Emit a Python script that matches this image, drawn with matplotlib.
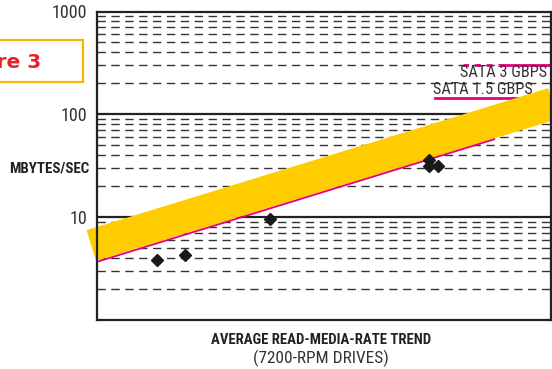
import matplotlib
matplotlib.use("Agg")
import matplotlib.pyplot as plt
from matplotlib.patches import Rectangle
from matplotlib import font_manager as fm

# ---- data ----
point_years = [1998.1, 1999.1, 2002.1, 2007.7, 2007.7, 2008.0]
point_rates = [3.8, 4.3, 9.5, 35.7, 31.3, 31.3]

trend_years = [1996.0, 2010.0]
trend_rates = [3.68, 57.2]

band_years = [1995.8, 2012.4]
band_rates = [5.30, 135.6]

sata3_years_dotted = [2008.9, 2010.3]
sata3_years_solid = [2010.3, 2012.0]
sata3_rate = 305
sata15_years = [2007.9, 2011.0]
sata15_rate = 143

yticks = [10, 100, 1000]
ytick_labels = ["10", "100", "1000"]
minor_ticks = [m * d for d in (1, 10, 100) for m in range(2, 10)]

names = {f.name for f in fm.fontManager.ttflist}
NARROW = "DejaVu Sans"
STRETCH = "condensed"
for cand in ["Liberation Sans Narrow", "Roboto Condensed", "Open Sans Condensed"]:
    if cand in names:
        NARROW = cand
        STRETCH = "normal"
        break

fig = plt.figure(figsize=(5.52, 3.69), dpi=100)
ax = fig.add_axes([97 / 552, 49 / 369, 454 / 552, 308.5 / 369])
ax.set_yscale("log")
ax.set_xlim(1996, 2012)
ax.set_ylim(1, 1000)

# grid
for v in minor_ticks:
    ax.axhline(v, color="#333333", lw=1.0, dashes=(6, 4), zorder=1)
for v in yticks[:-1]:
    ax.axhline(v, color="#222222", lw=1.6, zorder=1.5)

# yellow band
ax.plot(band_years, band_rates, color="#FFCC00", lw=23.2, solid_capstyle="butt",
        clip_on=False, zorder=3)
# magenta trend
ax.plot(trend_years, trend_rates, color="#E6007E", lw=1.3, zorder=4)

# points
ax.plot(point_years, point_rates, linestyle="none", marker="D", ms=6,
        color="#1a1a1a", zorder=5)

# SATA lines
ax.plot(sata3_years_dotted, [sata3_rate] * 2, color="#E6007E", lw=2,
        dashes=(2, 2.2), zorder=2, clip_on=False)
ax.plot(sata3_years_solid, [sata3_rate] * 2, color="#E6007E", lw=2, zorder=2,
        clip_on=False)
ax.plot(sata15_years, [sata15_rate] * 2, color="#E6007E", lw=2, zorder=2)

tk = dict(family=NARROW, fontstretch=STRETCH)
ax.text(2011.85, 254, "SATA 3 GBPS", ha="right", va="center", fontsize=11.7,
        color="#333333", zorder=6, **tk)
ax.text(2011.35, 176, "SATA 1.5 GBPS", ha="right", va="center", fontsize=11.7,
        color="#333333", zorder=6, **tk)

# axes styling
ax.set_xticks([])
ax.set_yticks(yticks)
ax.set_yticklabels(ytick_labels, fontsize=13, color="#333333", **tk)
ax.yaxis.set_minor_locator(matplotlib.ticker.NullLocator())
ax.tick_params(axis="y", length=0, pad=7)
for s in ax.spines.values():
    s.set_color("#222222")
    s.set_linewidth(1.6)
    s.set_zorder(7)

# labels
fig.text(89 / 552, 1 - 169 / 369, "MBYTES/SEC", ha="right", va="center",
         fontsize=10.8, fontweight="bold", color="#222222", **tk)
fig.text(321 / 552, 1 - 340 / 369, "AVERAGE READ-MEDIA-RATE TREND", ha="center",
         va="center", fontsize=10.6, fontweight="bold", color="#222222", **tk)
fig.text(321 / 552, 1 - 358 / 369, "(7200-RPM DRIVES)", ha="center",
         va="center", fontsize=12.4, color="#333333", **tk)

# Figure 3 box
fig.patches.append(Rectangle((-10 / 552, 1 - 82 / 369), 93 / 552, 42 / 369,
                             transform=fig.transFigure, fill=False,
                             edgecolor="#F5B800", lw=1.6))
fig.text(41 / 552, 1 - 63 / 369, "Figure 3", ha="right", va="center",
         fontsize=14.5, fontweight="bold", color="#E8202A")

fig.savefig("out.png", dpi=100)
